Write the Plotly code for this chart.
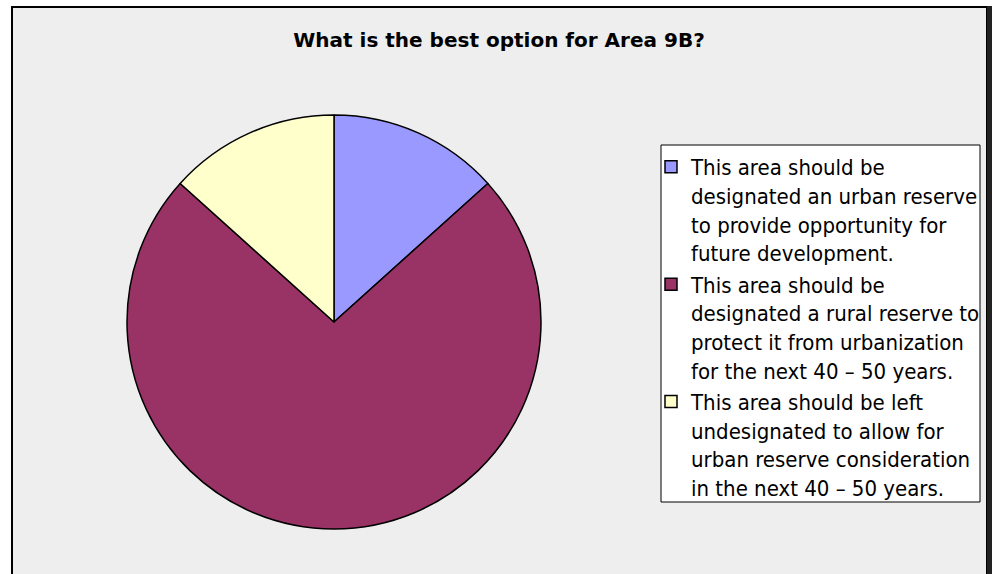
import plotly.graph_objects as go

title_text = "What is the best option for Area 9B?"
labels = [
    "This area should be<br>designated an urban reserve<br>to provide opportunity for<br>future development.",
    "This area should be<br>designated a rural reserve to<br>protect it from urbanization<br>for the next 40 – 50 years.",
    "This area should be left<br>undesignated to allow for<br>urban reserve consideration<br>in the next 40 – 50 years.",
]
values = [2, 11, 2]
colors = ["#9999FF", "#993366", "#FFFFCC"]

W, H = 992, 574

def px(x):
    return x / W

def py(y):
    return 1 - y / H

fig = go.Figure()
fig.add_trace(go.Pie(
    labels=labels,
    values=values,
    sort=False,
    direction="clockwise",
    rotation=0,
    textinfo="none",
    hoverinfo="label+percent",
    marker=dict(colors=colors, line=dict(color="black", width=1.5)),
    domain=dict(x=[px(127), px(541)], y=[py(529), py(115)]),
))

fig.update_layout(
    width=W, height=H,
    margin=dict(l=0, r=0, t=0, b=0),
    paper_bgcolor="white",
    plot_bgcolor="#EEEEEE",
    title=dict(
        text=title_text,
        x=px(499), xanchor="center",
        y=py(40), yanchor="middle", yref="container",
        font=dict(family="DejaVu Sans", size=20, color="black", weight="bold"),
    ),
    legend=dict(
        x=px(651), xanchor="left",
        y=py(146), yanchor="top",
        valign="top",
        bgcolor="rgba(0,0,0,0)",
        borderwidth=0,
        font=dict(family="DejaVu Sans Condensed, Liberation Sans, sans-serif", size=22, color="black"),
        traceorder="normal",
    ),
    showlegend=True,
    shapes=[
        dict(type="rect", xref="paper", yref="paper", layer="below",
             x0=px(12), x1=px(987), y0=-0.2, y1=py(7),
             fillcolor="#EEEEEE", line=dict(color="black", width=2)),
        dict(type="rect", xref="paper", yref="paper", layer="below",
             x0=px(987), x1=px(993), y0=-0.2, y1=py(6),
             fillcolor="#222222", line=dict(width=0)),
        dict(type="rect", xref="paper", yref="paper", layer="below",
             x0=px(661), x1=px(980), y0=py(502), y1=py(145),
             fillcolor="white", line=dict(color="black", width=1)),
    ],
)

fig.write_html("out.html", config={"displayModeBar": False})

with open("out.html", "r", encoding="utf-8") as f:
    html = f.read()
html = html.replace("<head>", "<head><style>html,body{margin:0;padding:0;overflow:hidden;}</style>", 1)
with open("out.html", "w", encoding="utf-8") as f:
    f.write(html)
